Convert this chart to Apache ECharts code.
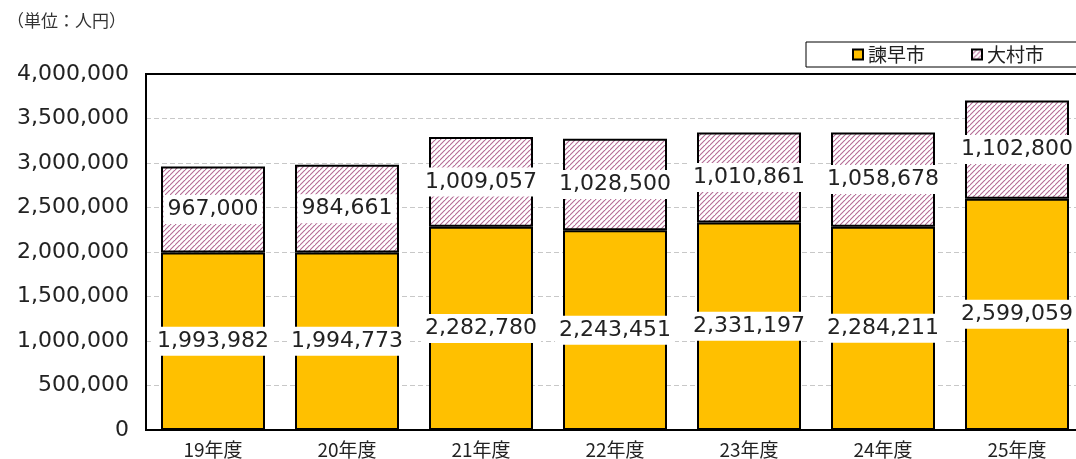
<!DOCTYPE html>
<html>
<head>
<meta charset="utf-8">
<script src="https://cdn.jsdelivr.net/npm/echarts@6/dist/echarts.min.js"></script>
<style>
  html, body { margin: 0; padding: 0; background: #fff; overflow: hidden; }
  #chart { width: 1084px; height: 459px; }
</style>
</head>
<body>
<div id="chart"></div>
<script>
// カテゴリ・データ
const categories = ['19年度', '20年度', '21年度', '22年度', '23年度', '24年度', '25年度'];
const isahaya = [1993982, 1994773, 2282780, 2243451, 2331197, 2284211, 2599059];
const omura = [967000, 984661, 1009057, 1028500, 1010861, 1058678, 1102800];
const yTicks = [0, 500000, 1000000, 1500000, 2000000, 2500000, 3000000, 3500000, 4000000];

const numFont = 'DejaVu Sans';
const jpFont = '"Noto Sans CJK JP"';

// 斜線パターン
const makeHatch = () => {
  const s = 5;
  const c = document.createElement('canvas');
  c.width = s;
  c.height = s;
  const ctx = c.getContext('2d');
  ctx.fillStyle = '#ffffff';
  ctx.fillRect(0, 0, s, s);
  ctx.strokeStyle = '#b46a94';
  ctx.lineWidth = 1.1;
  ctx.beginPath();
  ctx.moveTo(-1, s + 1); ctx.lineTo(s + 1, -1);
  ctx.moveTo(-s - 1, s + 1); ctx.lineTo(1, -1);
  ctx.moveTo(s - 1, 2 * s + 1); ctx.lineTo(2 * s + 1, s - 1);
  ctx.stroke();
  return c;
};
const hatch = { image: makeHatch(), repeat: 'repeat' };

const fmt = (v) => String(v).replace(/\B(?=(\d{3})+(?!\d))/g, ',');

const labelStyle = {
  show: true,
  position: 'inside',
  formatter: (p) => fmt(p.value),
  color: '#222',
  fontFamily: numFont,
  fontSize: 22,
  backgroundColor: '#ffffff',
  padding: [4, 4, 3, 4],
};

const myChart = echarts.init(document.getElementById('chart'), null, { renderer: 'canvas' });
const option = {
  animation: false,
  title: {
    text: '（単位：人円）',
    left: 2,
    top: 7,
    textStyle: { fontFamily: jpFont, fontSize: 17, fontWeight: 'normal', color: '#333' },
  },
  legend: {
    left: 806,
    top: 42,
    width: 290,
    height: 26,
    padding: [3, 50, 3, 46],
    borderColor: '#000',
    borderWidth: 1,
    itemWidth: 10,
    itemHeight: 10,
    itemGap: 46,
    icon: 'rect',
    textStyle: { fontFamily: jpFont, fontSize: 19, color: '#222' },
    data: ['諫早市', '大村市'],
  },
  grid: {
    left: 146,
    top: 74,
    bottom: 28,
    right: 0,
    show: true,
    borderColor: '#000',
    borderWidth: 2,
    containLabel: false,
  },
  xAxis: [
    {
      type: 'category',
      data: categories,
      axisLine: { lineStyle: { color: '#000', width: 2 } },
      axisTick: { show: false },
      axisLabel: { fontFamily: jpFont, fontSize: 19, color: '#222', margin: 10 },
    },
    {
      // 上枠線
      type: 'category',
      position: 'top',
      data: categories,
      z: 5,
      axisLine: { show: true, lineStyle: { color: '#000', width: 2 } },
      axisTick: { show: false },
      axisLabel: { show: false },
      splitLine: { show: false },
    },
  ],
  yAxis: {
    type: 'value',
    min: yTicks[0],
    max: yTicks[yTicks.length - 1],
    interval: yTicks[1] - yTicks[0],
    axisLine: { show: true, lineStyle: { color: '#000', width: 2 } },
    axisTick: { show: false },
    axisLabel: { fontFamily: numFont, fontSize: 22, color: '#222', margin: 17, formatter: fmt },
    splitLine: { lineStyle: { color: '#c8c8c8', type: [5, 3], width: 1 } },
  },
  series: [
    {
      name: '諫早市',
      type: 'bar',
      stack: 'total',
      data: isahaya,
      barWidth: 104,
      itemStyle: { color: '#ffc000', borderColor: '#000', borderWidth: 2 },
      label: labelStyle,
    },
    {
      name: '大村市',
      type: 'bar',
      stack: 'total',
      data: omura,
      barWidth: 104,
      itemStyle: { color: hatch, borderColor: '#000', borderWidth: 2 },
      label: labelStyle,
    },
  ],
};
myChart.setOption(option);
</script>
</body>
</html>
